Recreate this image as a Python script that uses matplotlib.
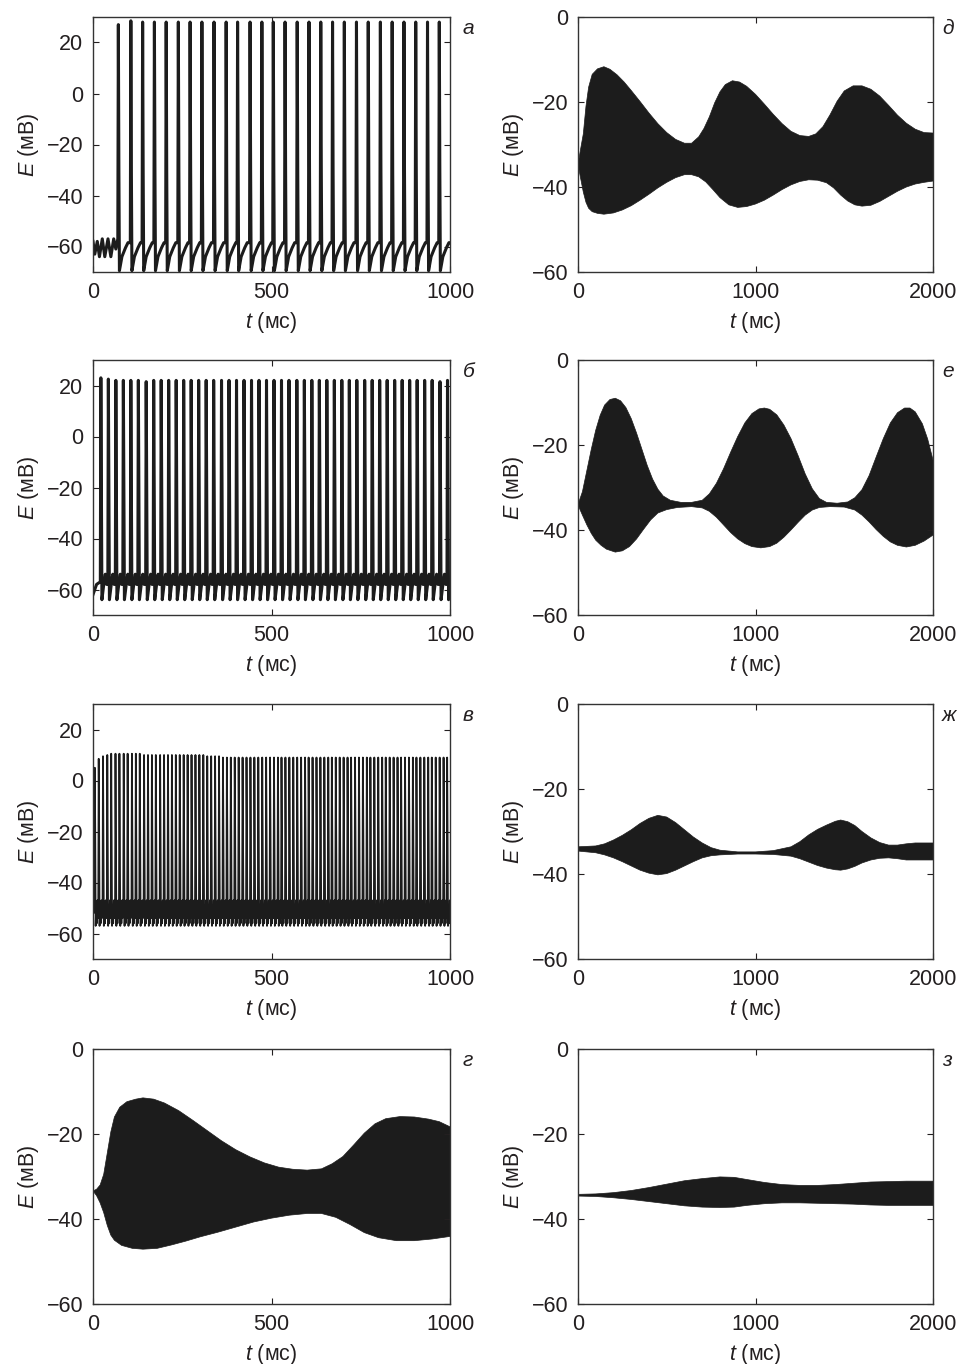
import numpy as np
import matplotlib
matplotlib.use('Agg')
import matplotlib.pyplot as plt

plt.rcParams['font.family'] = ['Liberation Sans', 'DejaVu Sans']
plt.rcParams['mathtext.fontset'] = 'custom'
plt.rcParams['mathtext.it'] = 'Liberation Sans:italic'
plt.rcParams['mathtext.rm'] = 'Liberation Sans'

INK = '#1c1c1c'
TXT = '#231f20'

# --- panel а: tonic spiking after a short subthreshold episode ---
a_lead_t = [0, 5, 12, 18, 26, 33, 42, 50, 58, 64, 69.5]
a_lead_e = [-58, -63, -58, -64, -57, -64, -57, -64, -57, -61, -57]
a_spike_t = [71, 106, 139, 172, 205, 239, 272, 305, 339, 373, 405, 440, 473, 505,
             538, 572, 605, 638, 671, 704, 738, 771, 805, 838, 871, 904, 937, 970]
a_peak = [27, 28.5, 28, 28, 28, 28, 28, 28, 28, 28, 28, 28, 28, 28,
          28, 28, 28, 28, 28, 28, 28, 28, 28, 28, 28, 28, 28, 28]
a_after_dt = [1.5, 3, 10, 20, 27]
a_after_e = [-30, -69.5, -64, -60.5, -58.5]

# --- panel б: regular spiking ---
b_lead_t = [0, 10, 20.5]
b_lead_e = [-62, -58, -57]
b_spike_t = [22, 43, 64, 85, 106, 127, 149, 170, 191, 212, 233, 254, 275, 296, 317,
             338, 360, 381, 402, 423, 444, 465, 486, 507, 528, 549, 571, 592, 613,
             634, 655, 676, 697, 718, 739, 761, 782, 803, 824, 845, 866, 887, 908,
             929, 950, 972, 993]
b_peak = [23, 22.5, 22, 22, 22, 22, 21.5, 22, 22, 22, 22, 22, 22, 22, 22,
          22, 22, 22, 22, 22, 22, 22, 22, 22, 22, 22, 22, 22, 22,
          22, 22, 22, 22, 22, 22, 22, 22, 22, 22, 22, 22, 22, 22,
          22, 22, 21.5, 22]
b_after_dt = [1.5, 3, 9, 12.5, 16]
b_after_e = [-20, -64, -57, -54, -58]

# --- panel в: fast low-amplitude spiking ---
c_lead_t = [0, 2, 3.8]
c_lead_e = [-35, -52, -46]
c_spike_t = [5, 16, 28, 40, 51, 63, 74, 86, 97, 109,
             120, 131, 143, 154, 165, 176, 188, 199, 210, 221,
             232, 243, 254, 265, 276, 287, 298, 309, 320, 331,
             342, 353, 364, 375, 386, 397, 408, 419, 430, 441,
             452, 463, 474, 485, 496, 507, 518, 528, 539, 550,
             561, 572, 583, 594, 604, 615, 626, 637, 648, 659,
             669, 680, 691, 702, 713, 723, 734, 745, 756, 767,
             777, 788, 799, 810, 820, 831, 842, 853, 863, 874,
             885, 896, 906, 917, 928, 939, 949, 960, 971, 982,
             992]
c_peak = [5, 8.5, 9.5, 10, 10.5, 10.5, 10.5, 10.5, 10.5, 10.5,
          10.5, 10.5, 10, 10, 10, 10, 10, 10, 10, 10,
          10, 10, 10, 10, 10, 10, 10, 10, 9.5, 9.5,
          9.5, 9.5, 9, 9, 9, 9, 9, 9, 9, 9,
          9, 9, 9, 9, 9, 9, 9, 9, 9, 9,
          9, 9, 9, 9, 9, 9, 9, 9, 9, 9,
          9, 9, 9, 9, 9, 9, 9, 9, 9, 9,
          9, 9, 9, 9, 9, 9, 9, 9, 9, 9,
          9, 9, 9, 9, 9, 9, 9, 9, 9, 9,
          9]
c_after_dt = [1.2, 2.4, 4, 5.5, 7.5, 8.5]
c_after_e = [-20, -57, -49, -56, -47, -54, -49]

# --- panel г: amplitude envelope, 0..1000 ms ---
g_up_t = [0, 10, 20, 30, 40, 50, 60, 75, 95, 120, 140, 170, 200, 240, 280, 320,
          360, 400, 440, 480, 520, 560, 600, 640, 670, 700, 730, 760, 790, 820,
          860, 900, 940, 970, 1000]
g_up = [-33.4, -33, -32, -29.5, -24.5, -19.5, -16, -13.7, -12.4, -11.8, -11.5,
        -11.8, -12.7, -14.5, -16.8, -19.2, -21.6, -23.7, -25.4, -26.8, -27.8, -28.3,
        -28.5, -28.2, -27, -25.3, -22.6, -19.8, -17.6, -16.4, -15.9, -16, -16.5,
        -17.1, -18.3]
g_lo_t = [0, 10, 20, 30, 40, 50, 60, 80, 110, 140, 180, 220, 260, 300, 350, 400,
          450, 500, 550, 600, 640, 680, 720, 760, 800, 850, 900, 950, 1000]
g_lo = [-33.4, -34.5, -36.2, -38.5, -41.5, -43.8, -45, -46.2, -46.9, -47.1, -46.9,
        -46.1, -45.2, -44.2, -43.1, -41.9, -40.7, -39.8, -39.1, -38.7, -38.7, -39.6,
        -41.3, -43.2, -44.4, -45.1, -45.1, -44.7, -44.1]

# --- panels д, е, ж, з: amplitude envelopes, 0..2000 ms ---
d_up_t = [0, 15, 30, 45, 60, 80, 110, 146, 180, 220, 260, 300, 350, 400, 450, 500,
          550, 600, 640, 680, 710, 740, 770, 800, 830, 870, 910, 950, 1000, 1050,
          1100, 1150, 1200, 1250, 1300, 1340, 1380, 1420, 1460, 1500, 1550, 1600,
          1650, 1700, 1750, 1800, 1850, 1900, 1950, 2000]
d_up = [-34.7, -31, -27.5, -21, -16.5, -13.5, -12.2, -11.7, -12.3, -13.6, -15.3,
        -17.3, -19.9, -22.6, -25.1, -27.2, -28.8, -29.7, -29.7, -28.2, -26.2, -23.5,
        -20.2, -17.6, -15.9, -15, -15.3, -16.3, -18.2, -20.5, -22.9, -25.1, -26.9,
        -27.9, -28.1, -27.5, -25.8, -23, -19.8, -17.4, -16.2, -16.2, -17, -18.6,
        -20.8, -23.1, -25, -26.4, -27.2, -27.3]
d_lo_t = [0, 15, 30, 45, 60, 80, 110, 146, 200, 250, 300, 350, 400, 450, 500, 550,
          600, 640, 680, 720, 760, 800, 850, 900, 950, 1000, 1050, 1100, 1150, 1200,
          1250, 1300, 1350, 1400, 1440, 1480, 1520, 1560, 1600, 1650, 1700, 1750,
          1800, 1850, 1900, 1950, 2000]
d_lo = [-34.7, -38, -41.2, -43.6, -45, -45.8, -46.2, -46.4, -46.1, -45.4, -44.4,
        -43.1, -41.7, -40.2, -38.9, -37.8, -37.1, -37.1, -37.6, -38.8, -40.6, -42.5,
        -44.2, -44.8, -44.6, -44, -43.1, -41.9, -40.6, -39.5, -38.7, -38.3, -38.4,
        -39, -40.2, -41.9, -43.3, -44.2, -44.5, -44.3, -43.4, -42.2, -41, -40,
        -39.3, -38.9, -38.6]

e_up_t = [0, 25, 50, 75, 100, 125, 150, 180, 210, 240, 270, 300, 330, 360, 390, 420,
          450, 480, 520, 580, 640, 700, 740, 780, 820, 860, 900, 940, 980, 1020,
          1050, 1080, 1120, 1160, 1200, 1240, 1280, 1320, 1360, 1400, 1460, 1520,
          1560, 1600, 1640, 1680, 1720, 1760, 1800, 1840, 1870, 1900, 1940, 1970,
          2000]
e_up = [-34, -31, -26, -21, -16.5, -13, -10.6, -9.3, -9, -9.6, -11.2, -13.8, -17.2,
        -21, -24.8, -28, -30.4, -32, -33, -33.5, -33.5, -33, -31.5, -29, -25.6,
        -21.7, -18, -14.8, -12.6, -11.5, -11.3, -11.6, -12.9, -15.3, -18.5, -22.5,
        -26.8, -30.3, -32.6, -33.5, -33.7, -33.4, -32.4, -30.5, -27.2, -22.8, -18.5,
        -14.8, -12.4, -11.3, -11.3, -12.2, -15, -18.6, -23.5]
e_lo_t = [0, 25, 50, 75, 100, 130, 160, 210, 250, 290, 330, 370, 410, 450, 500, 560,
          640, 700, 740, 780, 820, 860, 900, 940, 980, 1030, 1080, 1120, 1160, 1200,
          1240, 1280, 1320, 1360, 1420, 1500, 1560, 1600, 1640, 1680, 1720, 1760,
          1800, 1850, 1900, 1950, 2000]
e_lo = [-34.1, -36.5, -38.8, -40.8, -42.4, -43.6, -44.5, -45.2, -44.9, -43.9, -42.1,
        -39.8, -37.6, -36, -35.2, -34.7, -34.5, -34.8, -35.6, -37, -38.8, -40.6,
        -42.1, -43.2, -43.9, -44.2, -43.9, -43.1, -41.7, -40, -38.2, -36.5, -35.3,
        -34.7, -34.5, -34.6, -35.3, -36.5, -38.1, -39.9, -41.5, -42.8, -43.6, -44,
        -43.6, -42.6, -41.2]

zh_t = [0, 100, 150, 200, 250, 300, 350, 400, 450, 500, 550, 600, 650, 700, 750, 800,
        900, 1000, 1100, 1200, 1250, 1300, 1350, 1400, 1450, 1480, 1520, 1560, 1600,
        1650, 1700, 1750, 1800, 1850, 1900, 2000]
zh_up = [-33.6, -33.4, -32.9, -32, -30.9, -29.6, -28.1, -26.9, -26.2, -26.6, -27.9,
         -29.6, -31.3, -32.7, -33.8, -34.4, -34.8, -34.8, -34.5, -33.6, -32.4, -30.8,
         -29.5, -28.5, -27.6, -27.3, -27.7, -28.6, -30, -31.5, -32.6, -33.2, -33.2,
         -32.9, -32.7, -32.7]
zh_lo = [-34.6, -35, -35.5, -36.2, -37.1, -38.1, -39.1, -39.8, -40.2, -39.9, -39.1,
         -38.1, -37.1, -36.2, -35.7, -35.5, -35.3, -35.3, -35.4, -35.8, -36.4, -37.2,
         -38, -38.6, -39, -39.1, -38.8, -38.2, -37.4, -36.7, -36.3, -36.2, -36.4,
         -36.7, -36.7, -36.7]

z_t = [0, 100, 200, 300, 400, 500, 600, 700, 800, 880, 950, 1050, 1150, 1250, 1350,
       1450, 1550, 1650, 1750, 1850, 2000]
z_up = [-34.2, -34.1, -33.8, -33.3, -32.6, -31.8, -31, -30.5, -30.1, -30.2, -30.7,
        -31.4, -31.9, -32.1, -32.1, -31.9, -31.6, -31.3, -31.2, -31.1, -31.1]
z_lo = [-34.6, -34.7, -35, -35.4, -35.9, -36.4, -36.9, -37.2, -37.3, -37.2, -36.8,
        -36.4, -36.2, -36.2, -36.3, -36.4, -36.5, -36.7, -36.8, -36.8, -36.8]


def build_trace(lead_t, lead_e, spikes, peaks, after_dt, after_e, t_end, up_dt=1.5):
    """Join spikes into one trace; after_e has one more entry than after_dt,
    the last one being the level the next upstroke starts from."""
    t, e = list(lead_t), list(lead_e)
    nxt = list(spikes[1:]) + [t_end + up_dt]
    for ts, pk, tn in zip(spikes, peaks, nxt):
        t.append(ts)
        e.append(pk)
        for d, v in zip(after_dt, after_e):
            if ts + d < tn - up_dt:
                t.append(ts + d)
                e.append(v)
        t.append(tn - up_dt)
        e.append(after_e[-1])
    return np.array(t), np.array(e)


def envelope(ax, up_t, up, lo_t, lo):
    # closed outline: upper edge left to right, lower edge back
    xs = list(up_t) + list(lo_t)[::-1]
    ys = list(up) + list(lo)[::-1]
    ax.fill(xs, ys, color=INK, lw=0.5, edgecolor=INK)


W, H = 963, 1364
fig = plt.figure(figsize=(W / 100, H / 100), dpi=100)

col_x = [93, 578]
col_w = [357, 355]
row_top = [17, 360, 704, 1049]
ax_h = 255


def make_ax(row, col):
    return fig.add_axes([col_x[col] / W, 1 - (row_top[row] + ax_h) / H,
                         col_w[col] / W, ax_h / H])


def style(ax, xmax, ylim, yticks, letter, lx):
    ax.set_xlim(0, xmax)
    ax.set_ylim(*ylim)
    ax.set_xticks([0, xmax / 2, xmax])
    ax.set_xticklabels([f'{v:g}' for v in [0, xmax / 2, xmax]])
    ax.set_yticks(yticks)
    ax.tick_params(direction='in', top=True, right=True, length=4, width=0.8,
                   labelsize=15.5, colors=TXT, pad=7)
    for sp in ax.spines.values():
        sp.set_linewidth(1.0)
        sp.set_color('#333333')
    ax.set_xlabel('$t$ (мс)', fontsize=15.5, color=TXT, labelpad=5)
    ax.set_ylabel('$E$ (мВ)', fontsize=15.5, color=TXT, labelpad=4)
    ax.text(lx, 0.955, letter, transform=ax.transAxes, ha='left', va='center',
            fontsize=15, fontstyle='italic', color=TXT)


# left column: spike trains and one envelope
ax = make_ax(0, 0)
t, e = build_trace(a_lead_t, a_lead_e, a_spike_t, a_peak, a_after_dt, a_after_e, 1000)
ax.plot(t, e, color=INK, lw=2.2, solid_joinstyle='round')
style(ax, 1000, (-70, 30), [-60, -40, -20, 0, 20], 'а', 1.036)

ax = make_ax(1, 0)
t, e = build_trace(b_lead_t, b_lead_e, b_spike_t, b_peak, b_after_dt, b_after_e, 1000)
ax.plot(t, e, color=INK, lw=2.2, solid_joinstyle='round')
style(ax, 1000, (-70, 30), [-60, -40, -20, 0, 20], 'б', 1.036)

ax = make_ax(2, 0)
t, e = build_trace(c_lead_t, c_lead_e, c_spike_t, c_peak, c_after_dt, c_after_e, 1000,
                   up_dt=1.2)
ax.plot(t, e, color=INK, lw=1.3)
style(ax, 1000, (-70, 30), [-60, -40, -20, 0, 20], 'в', 1.036)

ax = make_ax(3, 0)
envelope(ax, g_up_t, g_up, g_lo_t, g_lo)
style(ax, 1000, (-60, 0), [-60, -40, -20, 0], 'г', 1.036)

# right column: amplitude envelopes over 2 s
env = [(d_up_t, d_up, d_lo_t, d_lo, 'д'), (e_up_t, e_up, e_lo_t, e_lo, 'е'),
       (zh_t, zh_up, zh_t, zh_lo, 'ж'), (z_t, z_up, z_t, z_lo, 'з')]
for row, (ut, up, lt, lo, letter) in enumerate(env):
    ax = make_ax(row, 1)
    envelope(ax, ut, up, lt, lo)
    style(ax, 2000, (-60, 0), [-60, -40, -20, 0], letter, 1.025)

fig.savefig('out.png', dpi=100)
